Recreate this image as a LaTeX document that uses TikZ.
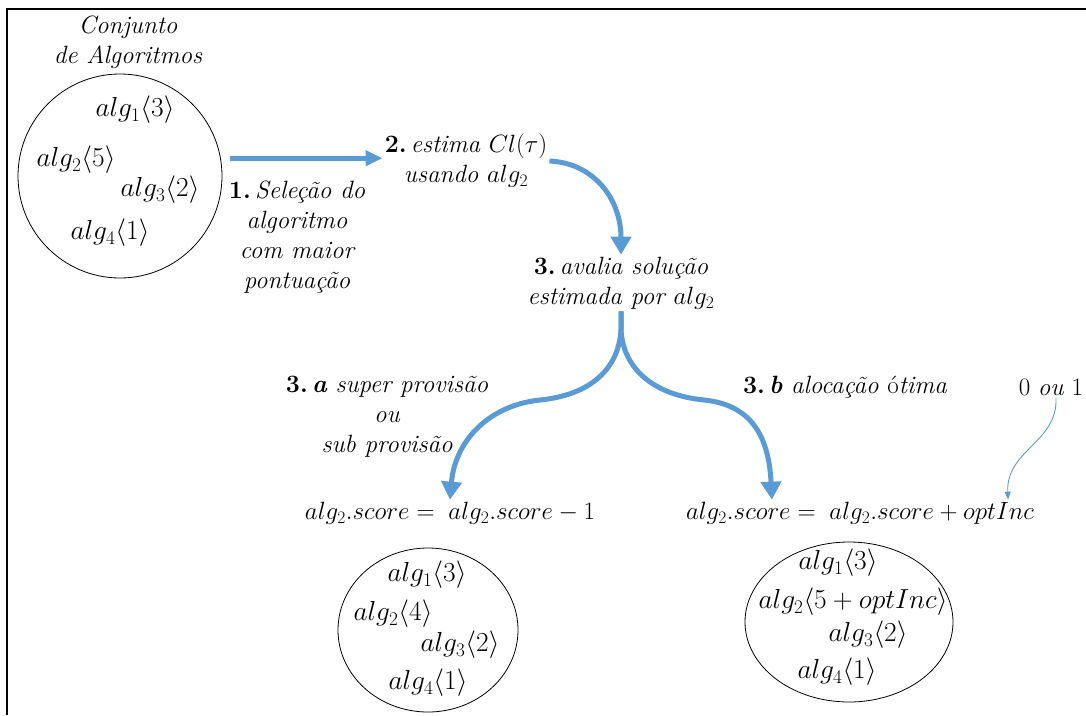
\RequirePackage{fix-cm}
\documentclass[tikz,border=0pt]{standalone}
\usetikzlibrary{arrows.meta,shapes.geometric,calc}
\definecolor{flowblue}{RGB}{91,155,213}
\newcommand\stepnum[1]{\textup{\textbf{#1}}}
\tikzset{
  txt/.style={font=\fontsize{25}{30}\selectfont, inner sep=2pt, align=center},
  itxt/.style={font=\fontsize{25}{30}\selectfont\itshape, inner sep=2pt, align=center},
  item/.style={font=\fontsize{27.5}{32}\selectfont, inner sep=1pt},
  setring/.style={draw, line width=0.8pt, ellipse, inner sep=0pt},
  bigarrow/.style={draw=flowblue, line width=5pt, -{Triangle[width=20pt,length=18pt]}},
  midarrow/.style={draw=flowblue, line width=5pt, -{Triangle[width=15pt,length=17pt]}},
  thinarrow/.style={draw=flowblue, line width=0.9pt, -{Triangle[width=6pt,length=8pt]}},
}
\begin{document}
\begin{tikzpicture}[x=1pt,y=-1pt]
\useasboundingbox (0,0) rectangle (1086,715);
% outer frame (top and left edges)
\draw[line width=1.5pt] (7,715) -- (7,9) -- (1086,9);

% the initial set of algorithms
\node[itxt] (title) at (128,42) {Conjunto\\de Algoritmos};
\node[setring, minimum width=204pt, minimum height=204pt] (setA) at (120,176) {};
\node[item] (a1) at (135,110) {$alg_1\langle 3\rangle$};
\node[item] (a2) at (76,160) {$alg_2\langle 5\rangle$};
\node[item] (a3) at (160,190) {$alg_3\langle 2\rangle$};
\node[item] (a4) at (110,233) {$alg_4\langle 1\rangle$};

% steps
\node[itxt] (step1) at (297,237) {\stepnum{1.}\,Seleção do\\algoritmo\\com maior\\pontuação};
\node[itxt] (step2) at (466,161) {\stepnum{2.}\,estima $Cl(\tau)$\\usando $alg_2$};
\node[itxt] (step3) at (621,283) {\stepnum{3.}\,avalia solução\\estimada por $alg_2$};
\node[itxt] (step3a) at (387,417) {\stepnum{3.}\,\textbf{a} super provisão\\ou\\sub provisão};
\node[itxt] (step3b) at (845,387) {\stepnum{3.}\,\textbf{b} alocação {\upshape ó}tima};
\node[txt] (zeroOne) at (1051,387) {0 \textit{ou} 1};

% score updates
\node[txt] (eqL) at (450,513) {$alg_2.score =\; alg_2.score - 1$};
\node[txt] (eqR) at (860,513) {$alg_2.score =\; alg_2.score + optInc$};

% resulting sets
\node[setring, minimum width=180pt, minimum height=164pt] (setL) at (428,630) {};
\node[item] (l1) at (427,575) {$alg_1\langle 3\rangle$};
\node[item] (l2) at (393,614) {$alg_2\langle 4\rangle$};
\node[item] (l3) at (460,645) {$alg_3\langle 2\rangle$};
\node[item] (l4) at (428,683) {$alg_4\langle 1\rangle$};

\node[setring, minimum width=208pt, minimum height=160pt] (setR) at (849,622) {};
\node[item] (r1) at (838,563) {$alg_1\langle 3\rangle$};
\node[item] (r2) at (853,602) {$alg_2\langle 5+optInc\rangle$};
\node[item] (r3) at (868,635) {$alg_3\langle 2\rangle$};
\node[item] (r4) at (837,672) {$alg_4\langle 1\rangle$};

% connectors
\draw[midarrow, shorten <=9pt] (setA.10) -- (setA.10 -| step2.west);
\draw[bigarrow] (step2.east) .. controls +(45,2) and +(0,-55) .. (step3.north);
\draw[bigarrow] (step3.south) -- ++(0,18)
  .. controls +(-2,40) and (590,395) .. (540,400)
  .. controls (490,405) and (455,440) .. (eqL.north);
\draw[bigarrow] (step3.south) -- ++(0,18)
  .. controls +(2,40) and (654,395) .. (704,400)
  .. controls (754,405) and (769,440) .. ($(eqR.north west)!0.25!(eqR.north east)$);
\draw[thinarrow] ([xshift=5pt]zeroOne.south)
  .. controls +(2,45) and +(-2,-50) .. ($(eqR.north west)!0.92!(eqR.north east)$);
\end{tikzpicture}
\end{document}
